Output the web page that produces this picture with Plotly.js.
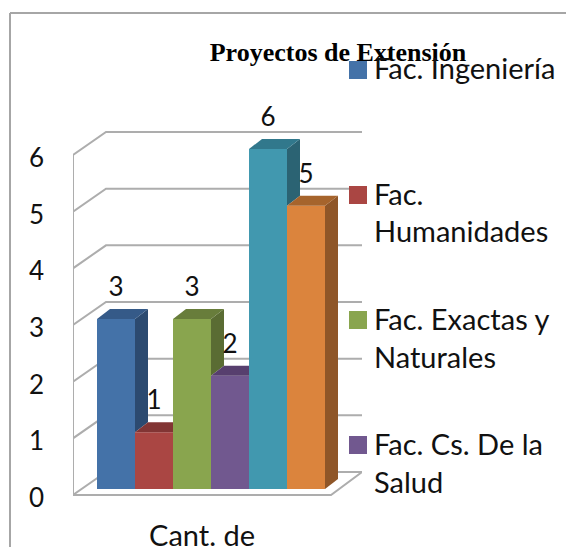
<!DOCTYPE html>
<html><head><meta charset="utf-8">
<script src="https://cdn.plot.ly/plotly-3.0.1.min.js"></script>
<style>html,body{margin:0;padding:0;background:#fff}#chart{width:566px;height:547px}</style>
</head><body><div id="chart"></div>
<script>
// Data
const titleText = "Proyectos de Extensión";
const categoryLabel = "Cant. de";
const seriesValues = [3, 1, 3, 2, 6, 5];
const frontColors = ["#4472a8", "#aa4643", "#89a54e", "#71588f", "#4198af", "#db843d"];
const sideColors  = ["#2c4a70", "#6f2e2c", "#5a6c33", "#4a3a5e", "#2b6373", "#8f5628"];
const topColors   = ["#355a88", "#823534", "#687d3b", "#573f6e", "#31788c", "#a6642c"];
const yTicks = [0, 1, 2, 3, 4, 5, 6];
const legendEntries = [
  {lines: ["Fac. Ingeniería"], color: "#4472a8"},
  {lines: ["Fac.", "Humanidades"], color: "#aa4643"},
  {lines: ["Fac. Exactas y", "Naturales"], color: "#89a54e"},
  {lines: ["Fac. Cs. De la", "Salud"], color: "#71588f"}
];

// Layout constants (pixels of the page)
const W = 566, H = 547;
const zeroPx = 495;
const axL = 73, axR = 362, axT = 100, axB = 505;
const pxPerUnitY = 56.67, pxPerSlot = 38, firstBarPx = 97;
const barBase = 6 / pxPerUnitY;
const depthX = 13 / pxPerSlot, depthY = 10 / pxPerUnitY;
const wallDX = 33 / pxPerSlot, wallDY = 23 / pxPerUnitY;
const wallLeft = (axL - firstBarPx) / pxPerSlot;
const floorRight = (331 - firstBarPx) / pxPerSlot;
const wallRight = (axR - firstBarPx) / pxPerSlot;
const tickShift = 3 / pxPerUnitY;
const gridColor = "#adadad", uiFont = "Lato", ink = "#111";

const traces = [];
const shapes = [], annotations = [];
const poly = (xs, ys, color) => traces.push({type: "scatter", mode: "lines", x: xs.concat(xs[0]), y: ys.concat(ys[0]),
  fill: "toself", fillcolor: color, line: {width: 0, color: color}, hoverinfo: "skip", showlegend: false});
const path = (xs, ys) => shapes.push({type: "path", xref: "x", yref: "y", layer: "below",
  path: xs.map((x, i) => (i ? "L" : "M") + x + "," + ys[i]).join(" "), line: {color: gridColor, width: 2}});

// Walls and floor
yTicks.forEach(t => {
  if (t === 0) return;
  path([wallLeft, wallLeft + wallDX, wallRight], [t, t + wallDY, t + wallDY]);
});
path([wallLeft, wallLeft], [0, yTicks[yTicks.length - 1]]);
path([wallRight, floorRight, wallLeft, wallLeft + wallDX, wallRight], [wallDY, 0, 0, wallDY, wallDY]);

// Front faces
seriesValues.forEach((v, i) => traces.push({
  type: "bar", x: [i + 0.5], y: [v], base: [barBase], width: 1, marker: {color: frontColors[i], line: {width: 0}},
  hoverinfo: "y", showlegend: false
}));

// Side and top faces, cut where the next bar's front stands before them
seriesValues.forEach((v, i) => {
  const x0 = i, x1 = i + 1, top = v + barBase;
  const next = seriesValues[i + 1];
  const nextTop = next === undefined ? barBase : next + barBase;
  if (next === undefined || next < v) {
    poly([x1, x1 + depthX, x1 + depthX, x1], [nextTop, nextTop + depthY, top + depthY, top], sideColors[i]);
    poly([x0, x1, x1 + depthX, x0 + depthX], [top, top, top + depthY, top + depthY], topColors[i]);
  } else {
    poly([x0, x1, x1, x0 + depthX], [top, top, top + depthY, top + depthY], topColors[i]);
  }
});

// Data labels
traces.push({type: "scatter", mode: "text", x: seriesValues.map((v, i) => i + 0.5),
  y: seriesValues.map(v => v + barBase + 29.5 / pxPerUnitY), text: seriesValues.map(String),
  textposition: "middle center", textfont: {family: uiFont, size: 26, color: ink},
  cliponaxis: false, hoverinfo: "skip", showlegend: false});

// Legend (swatches + wrapped lines)
const paperX = p => (p - axL) / (axR - axL), paperY = p => (axB - p) / (axB - axT);
legendEntries.forEach((e, i) => {
  const top = 61 + i * 125;
  shapes.push({type: "rect", xref: "paper", yref: "paper", x0: paperX(349), x1: paperX(367),
    y0: paperY(top), y1: paperY(top + 18), fillcolor: e.color, line: {width: 0}});
  e.lines.forEach((ln, j) => annotations.push({xref: "paper", yref: "paper", x: paperX(372), y: paperY(top + 7 + j * 38),
    xanchor: "left", yanchor: "middle", showarrow: false, text: ln, font: {family: uiFont, size: 29, color: ink}}));
});
// Outer frame
shapes.push({type: "line", xref: "paper", yref: "paper", x0: paperX(10), x1: paperX(10), y0: paperY(13), y1: paperY(H), line: {color: "#a6a6a6", width: 2}});
shapes.push({type: "line", xref: "paper", yref: "paper", x0: paperX(10), x1: paperX(W), y0: paperY(13), y1: paperY(13), line: {color: "#a6a6a6", width: 2}});

Plotly.newPlot("chart", traces, {
  width: W, height: H, paper_bgcolor: "#fff", plot_bgcolor: "rgba(0,0,0,0)", showlegend: false, barmode: "overlay",
  margin: {l: axL, r: W - axR, t: axT, b: H - axB, pad: 0},
  title: {text: "<b>" + titleText + "</b>", x: 338 / W, xref: "container", xanchor: "center", y: 1 - 52 / H, yref: "container", yanchor: "middle",
    font: {family: "Liberation Serif", size: 26, color: "#000"}},
  xaxis: {range: [wallLeft, wallRight], showgrid: false, zeroline: false, showline: false, ticks: "",
    tickmode: "array", tickvals: [((axL + 331) / 2 - firstBarPx) / pxPerSlot], ticktext: [categoryLabel],
    ticklabelstandoff: 11, tickfont: {family: uiFont, size: 29, color: ink}},
  yaxis: {range: [-(axB - zeroPx) / pxPerUnitY, (zeroPx - axT) / pxPerUnitY], showgrid: false, zeroline: false, showline: false, ticks: "",
    tickmode: "array", tickvals: yTicks.map(t => t - tickShift), ticktext: yTicks.map(String), ticklabelstandoff: 28,
    tickfont: {family: uiFont, size: 26, color: ink}},
  shapes: shapes, annotations: annotations
}, {displayModeBar: false, staticPlot: true});
</script></body></html>
